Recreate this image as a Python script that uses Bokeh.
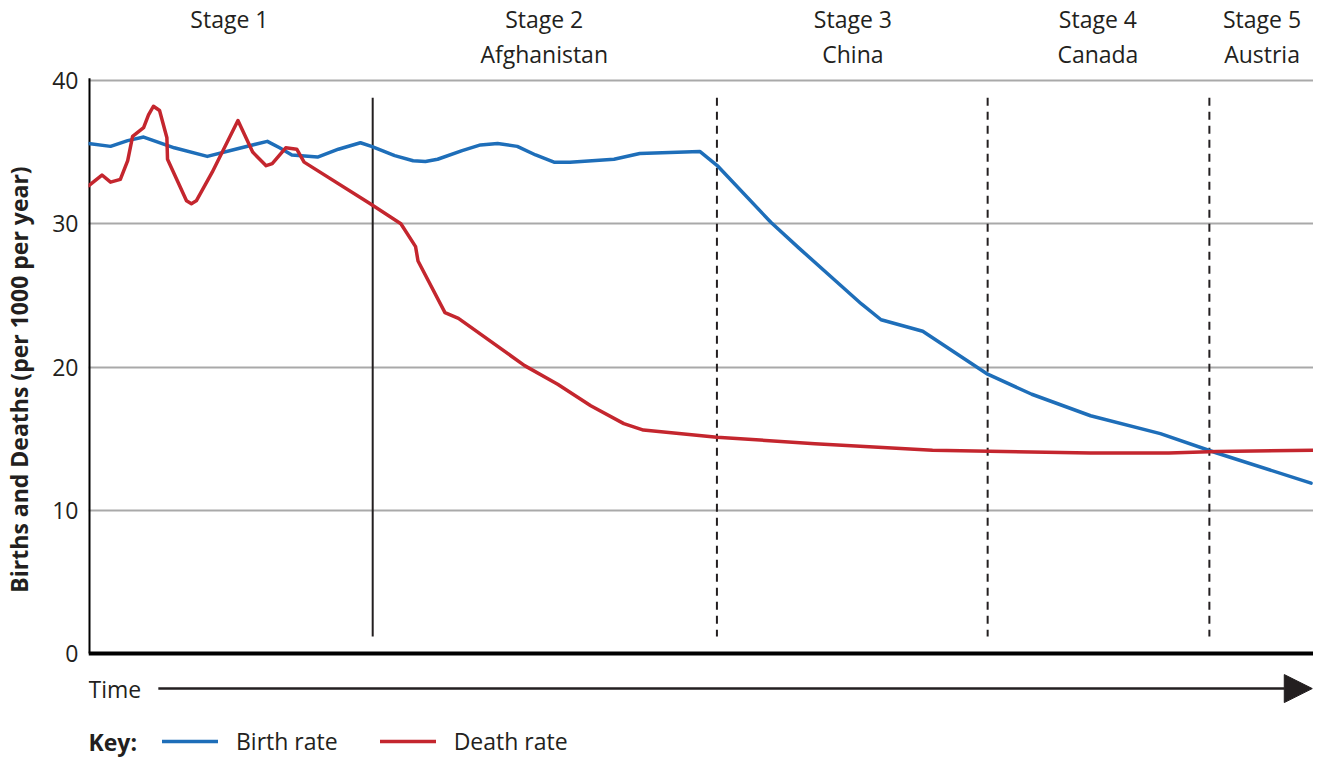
from bokeh.plotting import figure
from bokeh.models import Range1d, FixedTicker, Arrow, NormalHead, Legend, LegendItem
from bokeh.core.properties import value
from bokeh.embed import file_html
from bokeh.resources import INLINE

# ---- data (time on an arbitrary 0-100 scale) ----
birth_t = [0, 1.8, 3.2, 4.5, 7.0, 9.7, 12.0, 14.6, 15.6, 16.6, 18.7, 20.4, 22.2, 23.1,
           25.0, 26.5, 27.5, 28.5, 30.5, 32.0, 33.4, 35.0, 36.5, 38.0, 39.3, 42.9, 45.0,
           49.9, 51.4, 55.7, 58.0, 61.0, 63.1, 64.7, 68.1, 73.4, 77.0, 81.8, 87.5, 92.1, 99.8]
birth_rate = [35.6, 35.4, 35.8, 36.05, 35.3, 34.7, 35.2, 35.75, 35.3, 34.8, 34.65, 35.2, 35.65, 35.4,
              34.75, 34.4, 34.35, 34.5, 35.1, 35.5, 35.6, 35.4, 34.8, 34.3, 34.3, 34.5, 34.9,
              35.05, 34.0, 30.1, 28.3, 26.0, 24.4, 23.3, 22.5, 19.5, 18.1, 16.6, 15.35, 14.0, 11.9]

death_t = [0, 1.1, 1.8, 2.6, 3.2, 3.6, 4.5, 4.9, 5.3, 5.8, 6.4, 6.45, 8.0, 8.4, 8.8, 10.1,
           12.2, 13.4, 14.5, 15.0, 16.1, 17.0, 17.6, 23.0, 25.5, 26.7, 26.9, 29.1, 30.2,
           35.6, 38.3, 41.0, 43.7, 45.3, 51.3, 59.3, 68.9, 81.8, 88.2, 92.1, 100]
death_rate = [32.65, 33.4, 32.9, 33.1, 34.4, 36.1, 36.7, 37.6, 38.2, 37.9, 36.0, 34.5, 31.6, 31.4, 31.6, 33.6,
              37.2, 35.0, 34.05, 34.2, 35.3, 35.2, 34.3, 31.4, 30.0, 28.4, 27.4, 23.8, 23.4,
              20.1, 18.8, 17.3, 16.05, 15.6, 15.1, 14.65, 14.2, 14.0, 14.0, 14.1, 14.2]

stage_bounds = [23.2, 51.3, 73.4, 91.5]
stage_centers = [11.5, 37.2, 62.4, 82.4, 95.8]
stage_names = ["Stage 1", "Stage 2", "Stage 3", "Stage 4", "Stage 5"]
stage_countries = ["", "Afghanistan", "China", "Canada", "Austria"]
y_ticks = [0, 10, 20, 30, 40]

BLUE = "#1e6eb9"
RED = "#c4262e"
INK = "#231f20"
FONT = "Open Sans"
FS = "23px"

p = figure(width=1313, height=758, output_backend="svg", toolbar_location=None,
           x_range=Range1d(0, 100), y_range=Range1d(-7.32, 45.58),
           min_border_left=80, min_border_right=0, min_border_top=0, min_border_bottom=0)
p.outline_line_color = None
p.xaxis.visible = False
p.xgrid.visible = False

ax = p.yaxis[0]
ax.ticker = FixedTicker(ticks=y_ticks)
ax.axis_line_color = None
ax.major_tick_line_color = None
ax.minor_tick_line_color = None
ax.major_label_text_font = FONT
ax.major_label_text_font_size = FS
ax.major_label_text_color = INK
ax.major_label_standoff = 4
ax.axis_label = "Births and Deaths (per 1000 per year)"
ax.axis_label_text_font = FONT
ax.axis_label_text_font_style = "bold"
ax.axis_label_text_font_size = "23px"
ax.axis_label_text_color = INK
ax.axis_label_standoff = 14

p.ygrid.ticker = FixedTicker(ticks=[10, 20, 30, 40])
p.ygrid.grid_line_color = "#a9a9a9"
p.ygrid.grid_line_width = 2

# axis lines
p.segment(x0=[0, 0], y0=[0, 0], x1=[0, 100], y1=[40.15, 0], line_color="black", line_width=4)

# stage boundaries
p.segment(x0=stage_bounds[:1], y0=[38.8], x1=stage_bounds[:1], y1=[1.2], line_color=INK, line_width=2)
p.segment(x0=stage_bounds[1:], y0=[38.8] * 3, x1=stage_bounds[1:], y1=[1.2] * 3,
          line_color=INK, line_width=2, line_dash="8 6")

# series
rb = p.line(birth_t, birth_rate, line_color=BLUE, line_width=3.5, line_join="round", line_cap="round")
rd = p.line(death_t, death_rate, line_color=RED, line_width=3.5, line_join="round", line_cap="round")

# stage labels
p.text(x=stage_centers, y=[44.3] * 5, text=stage_names, text_font=value(FONT), text_font_size=FS,
       text_align="center", text_baseline="middle", text_color=INK)
p.text(x=stage_centers[1:], y=[41.87] * 4, text=stage_countries[1:], text_font=value(FONT),
       text_font_size=FS, text_align="center", text_baseline="middle", text_color=INK)

# time arrow
p.text(x=[0], y=[-2.44], text=["Time"], text_font=value(FONT), text_font_size=FS,
       text_align="left", text_baseline="middle", text_color=INK)
p.add_layout(Arrow(end=NormalHead(size=28, fill_color=INK, line_color=INK, line_width=1),
                   x_start=5.7, y_start=-2.44, x_end=99.9, y_end=-2.44,
                   line_color=INK, line_width=2.5))

# key
p.text(x=[0], y=[-6.14], text=["Key:"], text_font=value(FONT), text_font_size=FS,
       text_font_style="bold", text_align="left", text_baseline="middle", text_color=INK)
legend = Legend(items=[LegendItem(label="Birth rate", renderers=[rb]),
                       LegendItem(label="Death rate", renderers=[rd])],
                orientation="horizontal", location=(74, 1), padding=0, margin=0,
                glyph_width=56, glyph_height=18, label_standoff=18, spacing=42,
                label_text_font=FONT, label_text_font_size=FS, label_text_color=INK,
                border_line_color=None, background_fill_alpha=0)
p.add_layout(legend, "center")

open("out.html", "w").write(file_html(p, INLINE))
